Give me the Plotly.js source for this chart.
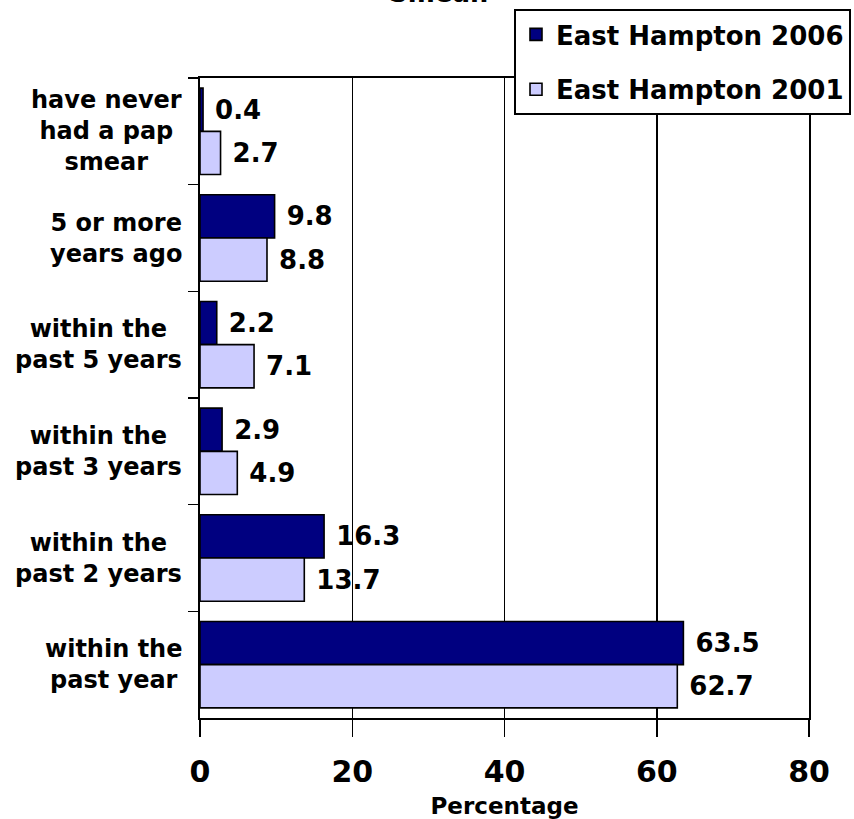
<!DOCTYPE html>
<html>
<head>
<meta charset="utf-8">
<script src="https://cdn.plot.ly/plotly-3.0.1.min.js"></script>
<style>html,body{margin:0;padding:0;background:#fff;}#chart{width:854px;height:819px;}</style>
</head>
<body>
<div id="chart"></div>
<script>
const categories = ["have never had a pap smear", "5 or more years ago", "within the past 5 years", "within the past 3 years", "within the past 2 years", "within the past year"];
const tickLabels = ["have never<br>had a pap<br>smear", "5 or more<br>years ago", "within the<br>past 5 years", "within the<br>past 3 years", "within the<br>past 2 years", "within the<br>past year"];
const seriesNames = ["East Hampton 2006", "East Hampton 2001"];
const eh2006 = [0.4, 9.8, 2.2, 2.9, 16.3, 63.5];
const eh2001 = [2.7, 8.8, 7.1, 4.9, 13.7, 62.7];
const xTicks = [0, 20, 40, 60, 80];
const titleText = "Smear.";
const xTitle = "Percentage";

const FONT = "DejaVu Sans";
const W = 854, H = 819, L = 200, R = 45, T = 78, B = 101;
const pw = W - L - R, ph = H - T - B;
const pxX = px => (px - L) / pw;
const pxY = py => (H - B - py) / ph;

function barTrace(name, vals, color, group) {
  return {
    type: "bar", orientation: "h", name: name, legendgroup: group,
    y: categories, x: vals,
    text: vals.map(v => "\u00A0" + v.toFixed(1)),
    textposition: "outside", cliponaxis: false, constraintext: "none",
    textfont: {family: FONT, size: 26, weight: "bold", color: "#000"},
    marker: {color: color, line: {color: "#000", width: 1.6}},
    hoverinfo: "x+y"
  };
}

const data = [
  barTrace(seriesNames[0], eh2006, "#000080", "a"),
  barTrace(seriesNames[1], eh2001, "#CCCCFF", "b")
];

const annotations = tickLabels.map((t, i) => ({
  text: t, xref: "paper", yref: "y", x: pxX(184), y: categories[i],
  xanchor: "right", yanchor: "middle", align: "center", showarrow: false,
  font: {family: FONT, size: 24, weight: "bold", color: "#000"}
}));
annotations.push({
  text: titleText, xref: "paper", yref: "paper", x: pxX(439), y: pxY(-7.5),
  xanchor: "center", yanchor: "middle", showarrow: false,
  font: {family: FONT, size: 26, weight: "bold", color: "#000"}
});

const layout = {
  width: W, height: H,
  margin: {l: L, r: R, t: T, b: B, pad: 0, autoexpand: false},
  paper_bgcolor: "#fff", plot_bgcolor: "#fff",
  barmode: "group", bargap: 0.19, bargroupgap: 0,
  showlegend: true,
  legend: {
    x: pxX(514), y: pxY(9), xanchor: "left", yanchor: "top",
    bgcolor: "#fff", bordercolor: "#000", borderwidth: 2,
    traceorder: "grouped", tracegroupgap: 18,
    font: {family: FONT, size: 26, weight: "bold", color: "#000"}
  },
  xaxis: {
    range: [0, 80], tickvals: xTicks, ticktext: xTicks.map(String),
    showgrid: true, gridcolor: "#000", gridwidth: 1.5,
    showline: true, linecolor: "#000", linewidth: 2, mirror: true,
    ticks: "outside", ticklen: 17, tickwidth: 1.5, tickcolor: "#000",
    ticklabelstandoff: 9,
    tickfont: {family: FONT, size: 30, weight: "bold", color: "#000"},
    zeroline: false, fixedrange: true,
    title: {text: xTitle, standoff: 15, font: {family: FONT, size: 23, weight: "bold", color: "#000"}},
    automargin: false
  },
  yaxis: {
    type: "category", categoryorder: "array", categoryarray: categories,
    autorange: "reversed",
    showticklabels: false, tickson: "boundaries",
    ticks: "outside", ticklen: 10, tickwidth: 1.5, tickcolor: "#000",
    showline: true, linecolor: "#000", linewidth: 2, mirror: true,
    showgrid: false, zeroline: false, fixedrange: true, automargin: false
  },
  annotations: annotations
};

Plotly.newPlot("chart", data, layout, {displayModeBar: false, staticPlot: true});
</script>
</body>
</html>
